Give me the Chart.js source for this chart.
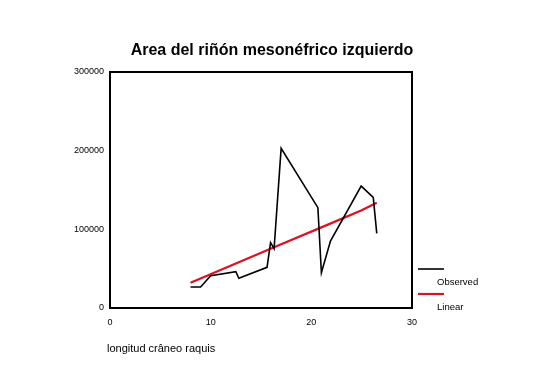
<!DOCTYPE html>
<html>
<head>
<meta charset="utf-8">
<script src="https://cdn.jsdelivr.net/npm/chart.js@4"></script>
<style>
html,body{margin:0;padding:0;background:#fff;}
#wrap{width:547px;height:386px;position:relative;}
</style>
</head>
<body>
<div id="wrap"><canvas id="c" width="547" height="386"></canvas></div>
<script>
const titleText = "Area del riñón mesonéfrico izquierdo";
const xTitle = "longitud crâneo raquis";
const legendLabels = ["Observed", "Linear"];
const xTicks = [0, 10, 20, 30];
const yTicks = [0, 100000, 200000, 300000];

const observedX = [8.0, 9.0, 10.0, 12.5, 12.8, 15.6, 15.95, 16.3, 17.0, 20.65, 21.0, 21.9, 24.95, 26.15, 26.5];
const observedY = [26700, 26700, 41000, 46100, 37700, 51700, 83000, 75400, 202900, 127500, 44900, 85100, 155000, 140600, 94900];

const linearX = [8.0, 12.5, 17.0, 21.0, 24.95, 26.5];
const linearY = [32100, 56500, 81000, 102500, 124000, 133800];

const toPts = (xs, ys) => xs.map((x, i) => ({x: x, y: ys[i]}));

const FONT = "'Liberation Sans', Arial, sans-serif";

const decor = {
  id: 'decor',
  afterDraw(chart) {
    const ctx = chart.ctx;
    const a = chart.chartArea;
    ctx.save();
    ctx.strokeStyle = '#000';
    ctx.lineWidth = 2;
    ctx.strokeRect(a.left, a.top, a.right - a.left, a.bottom - a.top);
    ctx.fillStyle = '#000';
    ctx.font = "bold 16px " + FONT;
    ctx.textAlign = 'center';
    ctx.textBaseline = 'middle';
    ctx.fillText(titleText, 272, 51);
    ctx.font = "11px " + FONT;
    ctx.textAlign = 'left';
    ctx.fillText(xTitle, 107, 349);
    const ds = chart.data.datasets;
    const rows = [269, 294];
    ctx.font = "9.5px " + FONT;
    ds.forEach((d, i) => {
      ctx.strokeStyle = d.borderColor;
      ctx.lineWidth = d.borderWidth;
      ctx.beginPath();
      ctx.moveTo(418, rows[i]);
      ctx.lineTo(444, rows[i]);
      ctx.stroke();
      ctx.fillStyle = '#000';
      ctx.fillText(legendLabels[i], 437, rows[i] + 13);
    });
    ctx.restore();
  }
};

new Chart(document.getElementById('c'), {
  type: 'scatter',
  data: {
    datasets: [
      {
        label: legendLabels[0],
        data: toPts(observedX, observedY),
        showLine: true,
        borderColor: '#000000',
        borderWidth: 1.6,
        pointRadius: 0,
        tension: 0
      },
      {
        label: legendLabels[1],
        data: toPts(linearX, linearY),
        showLine: true,
        borderColor: '#e01020',
        borderWidth: 2.2,
        pointRadius: 0,
        tension: 0
      }
    ]
  },
  options: {
    responsive: false,
    animation: false,
    devicePixelRatio: 1,
    layout: {padding: {left: 0, right: 135, top: 72, bottom: 0}},
    plugins: {legend: {display: false}, tooltip: {enabled: false}, title: {display: false}},
    scales: {
      x: {
        type: 'linear',
        min: 0, max: 30,
        afterBuildTicks: (s) => { s.ticks = xTicks.map(v => ({value: v})); },
        afterFit: (s) => { s.height = 78; },
        grid: {display: false, drawTicks: false},
        border: {display: false},
        ticks: {color: '#000', font: {size: 9, family: FONT}, padding: 9, maxRotation: 0}
      },
      y: {
        type: 'linear',
        min: 0, max: 300000,
        afterBuildTicks: (s) => { s.ticks = yTicks.map(v => ({value: v})); },
        afterFit: (s) => { s.width = 110; },
        grid: {display: false, drawTicks: false},
        border: {display: false},
        ticks: {color: '#000', font: {size: 9, family: FONT}, padding: 6, callback: (v) => String(v)}
      }
    }
  },
  plugins: [decor]
});
</script>
</body>
</html>
